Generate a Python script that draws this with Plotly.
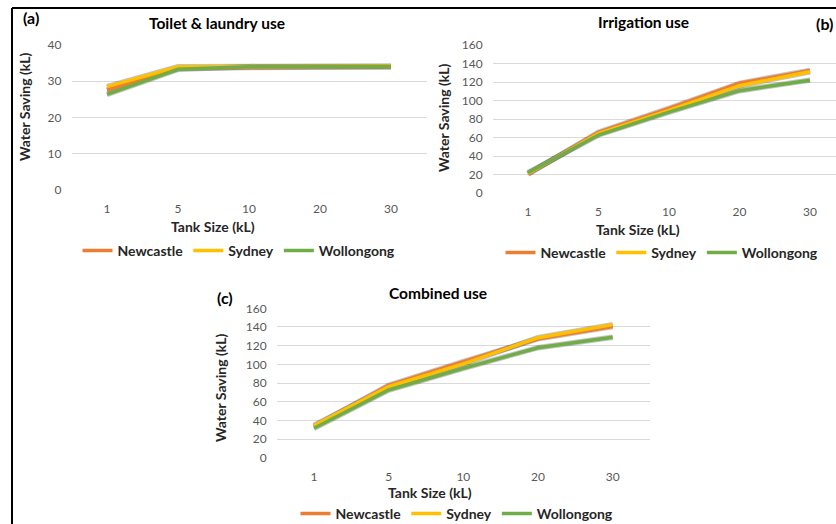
import plotly.graph_objects as go

tank_sizes = ["1", "5", "10", "20", "30"]
cities = ["Newcastle", "Sydney", "Wollongong"]
colors = {"Newcastle": "#ED7D31", "Sydney": "#FFC000", "Wollongong": "#70AD47"}

toilet_newcastle = [27.6, 33.5, 33.8, 33.9, 34.0]
toilet_sydney = [28.5, 34.0, 34.1, 34.2, 34.2]
toilet_wollongong = [26.4, 33.3, 34.0, 34.0, 34.0]

irrig_newcastle = [20.5, 65.6, 91.5, 118.6, 132.6]
irrig_sydney = [21.0, 64.3, 89.3, 116.0, 131.0]
irrig_wollongong = [22.0, 62.7, 87.5, 110.6, 122.0]

comb_newcastle = [33.5, 77.5, 102.8, 127.3, 140.5]
comb_sydney = [34.5, 76.0, 100.5, 128.5, 142.5]
comb_wollongong = [31.5, 72.5, 95.7, 117.8, 128.9]

W, H = 836, 524
FONT = "Lato"

panels = [
    dict(data=[toilet_newcastle, toilet_sydney, toilet_wollongong], xa="x", ya="y", legend="legend"),
    dict(data=[irrig_newcastle, irrig_sydney, irrig_wollongong], xa="x2", ya="y2", legend="legend2"),
    dict(data=[comb_newcastle, comb_sydney, comb_wollongong], xa="x3", ya="y3", legend="legend3"),
]

fig = go.Figure()
for p in panels:
    for vals in p["data"]:
        fig.add_trace(go.Scatter(x=tank_sizes, y=vals, mode="lines", xaxis=p["xa"], yaxis=p["ya"],
                                 line=dict(color="rgba(40,40,40,0.28)", width=5.5), showlegend=False,
                                 hoverinfo="skip"))
    for city, vals in zip(cities, p["data"]):
        fig.add_trace(go.Scatter(x=tank_sizes, y=vals, mode="lines", name=city, xaxis=p["xa"], yaxis=p["ya"],
                                 line=dict(color=colors[city], width=3.5), legend=p["legend"]))

def px(x):
    return x / W

def py(y):
    return 1 - y / H

tickfont = dict(family=FONT, size=12, color="#595959")
common_x = dict(type="category", showgrid=False, showline=False, zeroline=False, tickfont=tickfont,
                ticks="", ticklabelstandoff=10, fixedrange=True)
common_y = dict(showgrid=True, gridcolor="#D9D9D9", gridwidth=1, showline=False, zeroline=False,
                tickfont=tickfont, ticks="", ticklabelstandoff=9, fixedrange=True)

legfont = dict(family=FONT, size=14, color="#262626", weight="bold")
leg_common = dict(orientation="h", xanchor="center", yanchor="middle", font=legfont,
                  bgcolor="rgba(0,0,0,0)", itemwidth=30, tracegroupgap=0)

fig.update_layout(
    width=W, height=H, margin=dict(l=0, r=0, t=0, b=0, autoexpand=False),
    paper_bgcolor="white", plot_bgcolor="white",
    font=dict(family=FONT),
    xaxis=dict(common_x, domain=[px(71.5), px(426.5)], anchor="y", range=[-0.5, 4.5]),
    yaxis=dict(common_y, domain=[py(190), py(45)], anchor="x", range=[0, 40], dtick=10),
    xaxis2=dict(common_x, domain=[px(492.75), 1.0], anchor="y2", range=[-0.5, (836 - 528) / 70.5]),
    yaxis2=dict(common_y, domain=[py(193), py(45)], anchor="x2", range=[0, 160], dtick=20),
    xaxis3=dict(common_x, domain=[px(276.7), px(650)], anchor="y3", range=[-0.5, 4.5]),
    yaxis3=dict(common_y, domain=[py(457.7), py(308.3)], anchor="x3", range=[0, 160], dtick=20),
    legend=dict(leg_common, x=px(239), y=py(251)),
    legend2=dict(leg_common, x=px(662), y=py(253)),
    legend3=dict(leg_common, x=px(457), y=py(514)),
)

ann = []
def add_text(text, x, y, size, angle=0, xanchor="center", color="#000000"):
    ann.append(dict(text=text, x=px(x), y=py(y), xref="paper", yref="paper", showarrow=False,
                    xanchor=xanchor, yanchor="middle", textangle=angle,
                    font=dict(family=FONT, size=size, color=color, weight="bold")))

add_text("Toilet & laundry use", 217, 23, 15.5)
add_text("Irrigation use", 643, 22, 15.5)
add_text("Combined use", 438, 293, 15.5)
add_text("(a)", 31, 17, 16)
add_text("(c)", 225, 297, 16)
add_text("(b)", 835, 24, 16, xanchor="right")
for x, y in [(213, 226), (638, 229), (430, 492)]:
    add_text("Tank Size (kL)", x, y, 14, color="#262626")
for x, y in [(24, 107), (443, 117), (220, 388)]:
    add_text("Water Saving (kL)", x, y, 14, angle=-90, color="#262626")
fig.update_layout(annotations=ann)

fig.add_shape(type="line", xref="paper", yref="paper", x0=px(12), x1=1.0, y0=py(8), y1=py(8),
              line=dict(color="black", width=2))
fig.add_shape(type="line", xref="paper", yref="paper", x0=px(12), x1=px(12), y0=py(8), y1=0,
              line=dict(color="black", width=2))

fig.write_html("out.html", config={"displayModeBar": False},
               post_script="document.body.style.margin='0';document.body.style.overflow='hidden';")
